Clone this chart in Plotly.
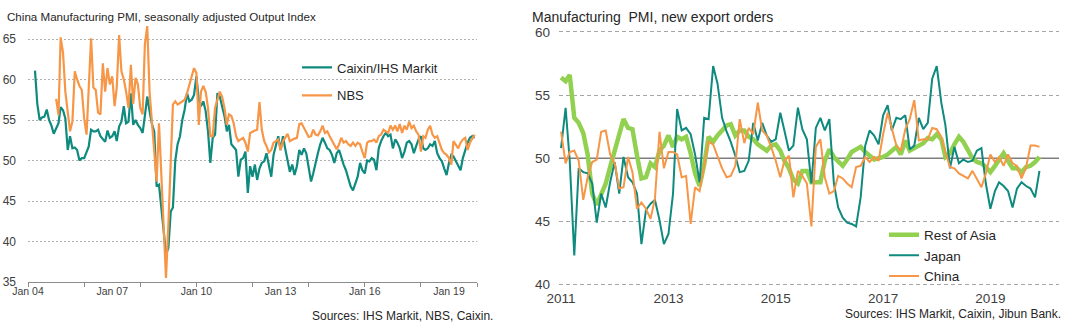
import pandas as pd
import plotly.graph_objects as go

W, H = 1073, 329
FONT = "Liberation Sans, Arial, sans-serif"
TEXT = "#262626"
TICK = "#404040"

TEAL = "#0E8A7E"
ORANGE = "#F79646"
GREEN = "#92D050"

# ---- Left panel: China manufacturing PMI, output index (monthly) ----
caixin_start = "2004-04-01"
caixin_output = [
    61.1, 57.0, 55.0, 55.3, 55.4, 56.3, 55.0, 54.3, 53.3,
    54.0, 54.6, 56.6, 56.2, 55.2, 51.3, 53.0, 51.5, 51.6, 51.3, 50.0, 50.3,
    50.3, 51.1, 51.7, 53.8, 53.6, 53.6, 53.8, 53.0, 52.6, 52.3, 53.7, 52.8,
    53.0, 53.6, 52.4, 54.2, 54.8, 56.7, 54.6, 54.8, 58.3, 54.4, 55.0, 54.4,
    54.0, 53.4, 55.5, 57.9, 56.1, 54.5, 53.6, 46.8, 47.0, 43.7, 41.3, 38.4,
    39.2, 43.7, 44.2, 50.0, 52.0, 53.0, 55.0, 56.3, 58.3, 57.3, 57.5, 58.1,
    60.4, 57.5, 56.7, 57.3, 56.1, 53.6, 49.7, 52.8, 53.2, 58.3, 57.9, 56.7,
    55.5, 53.6, 54.4, 52.0, 51.7, 51.3, 48.0, 50.1, 50.3, 51.1, 46.0, 49.3,
    48.0, 49.5, 47.6, 49.0, 49.7, 49.9, 50.9, 49.3, 48.0, 50.7, 52.0, 53.0,
    51.3, 53.0, 51.5, 49.9, 48.6, 49.5, 48.2, 49.3, 51.3, 50.7, 51.5, 50.9,
    49.0, 47.4, 48.4, 49.9, 50.9, 52.0, 52.8, 52.2, 51.5, 51.3, 50.7, 49.7,
    50.9, 51.3, 50.3, 49.5, 48.8, 47.8, 46.8, 46.3, 47.2, 48.0, 49.7, 48.8,
    48.4, 50.0, 49.9, 50.3, 50.1, 48.8, 51.5, 52.4, 53.0, 53.4, 53.0, 53.2,
    51.5, 52.6, 52.2, 51.5, 50.3, 51.1, 52.2, 52.4, 52.0, 50.9, 51.8, 52.6,
    53.0, 51.5, 51.3, 51.5, 52.0, 51.8, 52.4, 50.9, 50.3, 49.9, 49.0, 48.2,
    49.7, 50.7, 50.5, 49.9, 49.3, 48.8, 50.3, 51.3, 52.2, 52.8, 53.0, 52.8,
]

nbs_start = "2005-01-01"
nbs_output = [
    57.6, 55.6, 65.2, 63.3, 58.5, 56.1, 53.6, 54.8, 61.0, 60.0, 59.2, 58.7,
    55.2, 53.2, 59.0, 65.1, 59.0, 58.7, 55.9, 55.7, 62.0, 58.5, 61.4, 59.4,
    60.4, 56.7, 59.0, 65.5, 61.0, 60.0, 58.5, 56.5, 61.8, 57.0, 60.2, 59.4,
    56.5, 55.7, 64.3, 66.6, 58.5, 54.4, 51.0, 47.4, 54.6, 48.2, 40.0, 35.5,
    42.1, 51.1, 56.9, 57.3, 56.9, 57.1, 57.3, 57.5, 58.3, 59.2, 60.4, 61.4,
    60.8, 54.4, 58.5, 59.2, 58.5, 56.5, 53.0, 53.0, 56.5, 57.5, 58.5, 57.9,
    56.5, 54.4, 55.7, 55.5, 54.6, 53.0, 52.4, 52.6, 52.8, 52.2, 51.1,
    53.4, 53.6, 53.7, 53.8, 57.2, 53.8, 52.4, 51.8, 51.0, 51.3, 52.2, 52.4,
    52.6, 51.3, 52.4, 52.8, 53.3, 52.4, 52.6, 52.7, 52.8, 54.5, 54.6, 54.0,
    53.4, 52.9, 53.0, 53.8, 53.2, 53.1, 53.6, 54.3, 53.4, 53.6, 53.0, 52.4,
    52.0, 51.4, 52.0, 52.8, 52.2, 52.4, 52.0, 51.8, 52.2, 51.8, 52.2, 52.0,
    51.1, 50.3, 52.2, 52.4, 52.4, 52.6, 52.2, 53.0, 53.2, 53.8, 53.6, 53.4,
    54.3, 53.8, 54.3, 53.6, 54.5, 53.4, 54.3, 53.8, 54.8, 54.0, 54.3, 53.6,
    53.2, 51.1, 53.0, 52.8, 53.8, 54.3, 53.2, 52.8, 53.0, 52.2, 51.3, 50.9,
    50.7, 50.3, 49.5, 52.4, 52.0, 51.5, 52.2, 52.6, 52.8, 51.3, 52.2, 52.8,
    53.2,
]

left_ticks = ["2004-01-01", "2007-01-01", "2010-01-01", "2013-01-01",
              "2016-01-01", "2019-01-01"]
left_ticktext = ["Jan 04", "Jan 07", "Jan 10", "Jan 13", "Jan 16", "Jan 19"]
left_range = ["2004-01-01", "2020-01-01"]

# ---- Right panel: manufacturing PMI, new export orders (monthly) ----
export_start = "2011-01-01"
rest_of_asia = [
    56.4, 56.1, 56.6, 53.2, 52.8, 52.0, 50.3, 47.2, 46.3, 47.2, 48.0, 49.3,
    50.6, 51.9, 53.1, 52.4, 52.3, 50.2, 48.4, 48.5, 49.6, 49.3, 50.6, 51.0,
    51.8, 50.9, 51.7, 51.5, 51.7, 50.4, 48.8, 47.8, 49.5, 51.7, 51.3, 51.8,
    52.2, 52.6, 52.7, 51.8, 52.2, 52.2, 51.7, 51.5, 51.1, 50.9, 50.6, 51.0,
    51.1, 50.6, 49.8, 49.2, 48.3, 48.0, 49.0, 49.0, 48.1, 48.1, 48.1, 49.8,
    50.7, 50.1, 49.7, 49.4, 49.9, 50.5, 50.7, 50.9, 50.5, 50.2, 49.9, 50.0,
    50.1, 50.3, 50.6, 50.9, 50.3, 51.4, 50.6, 50.8, 51.0, 51.2, 51.6, 51.5,
    51.9, 51.5, 50.1, 50.4, 51.1, 51.7, 51.3, 50.6, 50.0, 49.7, 49.6, 49.3,
    48.9, 49.4, 49.9, 50.4, 49.8, 49.2, 49.2, 48.9, 49.3, 49.4, 49.7, 50.1,
]
japan = [
    50.8, 54.0, 49.8, 42.3, 49.2, 48.9, 48.8, 48.0, 44.9, 47.2, 46.1, 48.1,
    49.7, 47.2, 50.1, 48.5, 48.1, 47.2, 43.2, 45.9, 46.4, 46.7, 45.1, 43.2,
    44.0, 47.2, 53.9, 52.2, 52.4, 51.9, 50.3, 48.1, 53.2, 53.1, 57.3, 55.9,
    53.2, 52.1, 51.3, 50.2, 48.9, 49.0, 49.8, 52.8, 51.4, 52.8, 51.8, 51.3,
    51.5, 53.6, 52.2, 50.6, 51.0, 54.0, 52.3, 51.5, 48.0, 52.4, 53.2, 52.2,
    53.1, 48.0, 46.1, 45.3, 44.9, 44.8, 44.6, 46.9, 51.0, 52.2, 51.8, 51.1,
    53.4, 54.2, 52.2, 53.2, 53.1, 53.4, 50.7, 51.0, 53.2, 52.3, 52.8, 56.3,
    57.3, 54.4, 52.6, 49.2, 50.9, 49.6, 49.9, 49.7, 49.8, 50.6, 50.8, 48.0,
    46.0, 47.4, 48.1, 47.8, 47.4, 46.1, 47.6, 48.1, 47.8, 47.6, 46.9, 49.0,
]
china = [
    52.1, 49.6, 50.5, 50.6, 49.8, 46.7, 48.5, 49.7, 49.9, 52.1, 52.2, 50.3,
    49.6, 47.6, 47.7, 50.1, 48.9, 46.0, 46.5, 46.0, 45.2, 46.8, 52.1, 49.2,
    50.5, 50.5, 50.3, 48.5, 48.6, 44.8, 47.7, 47.4, 49.4, 51.3, 51.1, 50.1,
    49.2, 48.5, 48.6, 49.4, 53.1, 51.2, 52.4, 51.9, 54.4, 52.2, 51.8, 50.9,
    49.8, 48.5, 49.8, 50.2, 46.9, 49.0, 48.6, 48.0, 44.6, 50.9, 51.5, 48.5,
    47.2, 47.4, 48.6, 48.4, 48.0, 47.7, 49.3, 49.4, 50.1, 49.7, 50.1, 49.8,
    51.9, 53.6, 52.4, 51.0, 50.6, 52.3, 53.1, 54.6, 51.4, 51.5, 51.5, 52.4,
    52.3, 51.7, 50.5, 49.3, 49.2, 48.8, 48.6, 48.4, 49.0, 48.4, 47.7, 48.8,
    50.3, 49.7, 50.1, 49.4, 50.3, 49.6, 49.4, 48.4, 49.3, 51.0, 51.0, 50.9,
]
right_ticks = ["2011-01-01", "2013-01-01", "2015-01-01", "2017-01-01", "2019-01-01"]
right_ticktext = ["2011", "2013", "2015", "2017", "2019"]
right_range = ["2010-12-18", "2020-04-12"]


def monthly(start, values):
    return pd.date_range(start, periods=len(values), freq="MS")


fig = go.Figure()

fig.add_trace(go.Scatter(
    x=monthly(caixin_start, caixin_output), y=caixin_output, name="Caixin/IHS Markit",
    mode="lines", line=dict(color=TEAL, width=2.2), xaxis="x", yaxis="y",
    legend="legend", legendgroup="a"))
fig.add_trace(go.Scatter(
    x=monthly(nbs_start, nbs_output), y=nbs_output, name="NBS",
    mode="lines", line=dict(color=ORANGE, width=2.2), xaxis="x", yaxis="y",
    legend="legend", legendgroup="b"))

fig.add_trace(go.Scatter(
    x=monthly(export_start, rest_of_asia), y=rest_of_asia, name="Rest of Asia",
    mode="lines", line=dict(color=GREEN, width=4.5), xaxis="x2", yaxis="y2",
    legend="legend2"))
fig.add_trace(go.Scatter(
    x=monthly(export_start, japan), y=japan, name="Japan",
    mode="lines", line=dict(color=TEAL, width=2), xaxis="x2", yaxis="y2",
    legend="legend2"))
fig.add_trace(go.Scatter(
    x=monthly(export_start, china), y=china, name="China",
    mode="lines", line=dict(color=ORANGE, width=2), xaxis="x2", yaxis="y2",
    legend="legend2"))

# panel geometry in pixels
L_X0, L_X1, L_Y0, L_Y1 = 28, 477, 282, 22.8
R_X0, R_X1, R_Y0, R_Y1 = 559, 1059, 285.8, 30.7

fig.update_layout(
    width=W, height=H,
    margin=dict(l=0, r=0, t=0, b=0, autoexpand=False),
    paper_bgcolor="white", plot_bgcolor="white",
    font=dict(family=FONT, color=TEXT),
    xaxis=dict(
        domain=[L_X0 / W, L_X1 / W], anchor="y", type="date", automargin=False,
        range=left_range,
        showgrid=False, zeroline=False,
        showline=True, linecolor="#8c8c8c", linewidth=1,
        ticks="", tickmode="array", tickvals=left_ticks, ticktext=left_ticktext,
        tickfont=dict(size=10.5, color=TICK), ticklabelstandoff=-1,
        minor=dict(ticks="outside", ticklen=4, tickcolor="#8c8c8c",
                   dtick="M24", tick0="2004-01-01", showgrid=False),
    ),
    yaxis=dict(
        domain=[1 - L_Y0 / H, 1 - L_Y1 / H], anchor="x", automargin=False,
        range=[35, 67], tickmode="array", tickvals=[35, 40, 45, 50, 55, 60, 65],
        showgrid=True, gridcolor="#b0b0b0", gridwidth=1, griddash="2px,2px",
        zeroline=False, showline=False, ticks="",
        tickfont=dict(size=12, color=TICK), ticklabelstandoff=11,
    ),
    xaxis2=dict(
        domain=[R_X0 / W, R_X1 / W], anchor="y2", type="date", automargin=False,
        range=right_range,
        showgrid=False, zeroline=False, showline=False,
        ticks="", tickmode="array", tickvals=right_ticks, ticktext=right_ticktext,
        tickfont=dict(size=13.5, color=TICK), ticklabelstandoff=3,
    ),
    yaxis2=dict(
        domain=[1 - R_Y0 / H, 1 - R_Y1 / H], anchor="x2", automargin=False,
        range=[39.9, 60.1], tickmode="array", tickvals=[40, 45, 50, 55, 60],
        showgrid=True, gridcolor="#a6a6a6", gridwidth=1, griddash="4px,3px",
        zeroline=False, showline=False, ticks="",
        tickfont=dict(size=13.5, color=TICK), ticklabelstandoff=8,
    ),
    legend=dict(
        x=297 / W, y=1 - 52.5 / H, xanchor="left", yanchor="top",
        bgcolor="rgba(0,0,0,0)", borderwidth=0,
        font=dict(size=13, color=TEXT, family=FONT),
        traceorder="grouped", tracegroupgap=8,
    ),
    legend2=dict(
        x=884 / W, y=1 - 219.5 / H, xanchor="left", yanchor="top",
        bgcolor="rgba(0,0,0,0)", borderwidth=0,
        font=dict(size=13.5, color=TEXT, family=FONT),
    ),
    showlegend=True,
)

# solid reference line at 50 on the export-orders panel, under the series
fig.add_shape(type="line", xref="x2", yref="y2",
              x0=right_range[0], x1=right_range[1], y0=50, y1=50,
              line=dict(color="#7f7f7f", width=1.5), layer="between")

# titles and source notes
fig.add_annotation(text="China Manufacturing PMI, seasonally adjusted Output Index",
                   xref="paper", yref="paper", x=5 / W, y=1 - 16 / H,
                   xanchor="left", yanchor="middle", showarrow=False,
                   font=dict(size=11.6, color=TEXT))
fig.add_annotation(text="Manufacturing  PMI, new export orders",
                   xref="paper", yref="paper", x=530 / W, y=1 - 17 / H,
                   xanchor="left", yanchor="middle", showarrow=False,
                   font=dict(size=14, color=TEXT))
fig.add_annotation(text="Sources: IHS Markit, NBS, Caixin.",
                   xref="paper", yref="paper", x=495 / W, y=1 - 316 / H,
                   xanchor="right", yanchor="middle", showarrow=False,
                   font=dict(size=12, color=TEXT))
fig.add_annotation(text="Sources: IHS Markit, Caixin, Jibun Bank.",
                   xref="paper", yref="paper", x=1063 / W, y=1 - 314 / H,
                   xanchor="right", yanchor="middle", showarrow=False,
                   font=dict(size=12, color=TEXT))

fig.write_html("out.html")
